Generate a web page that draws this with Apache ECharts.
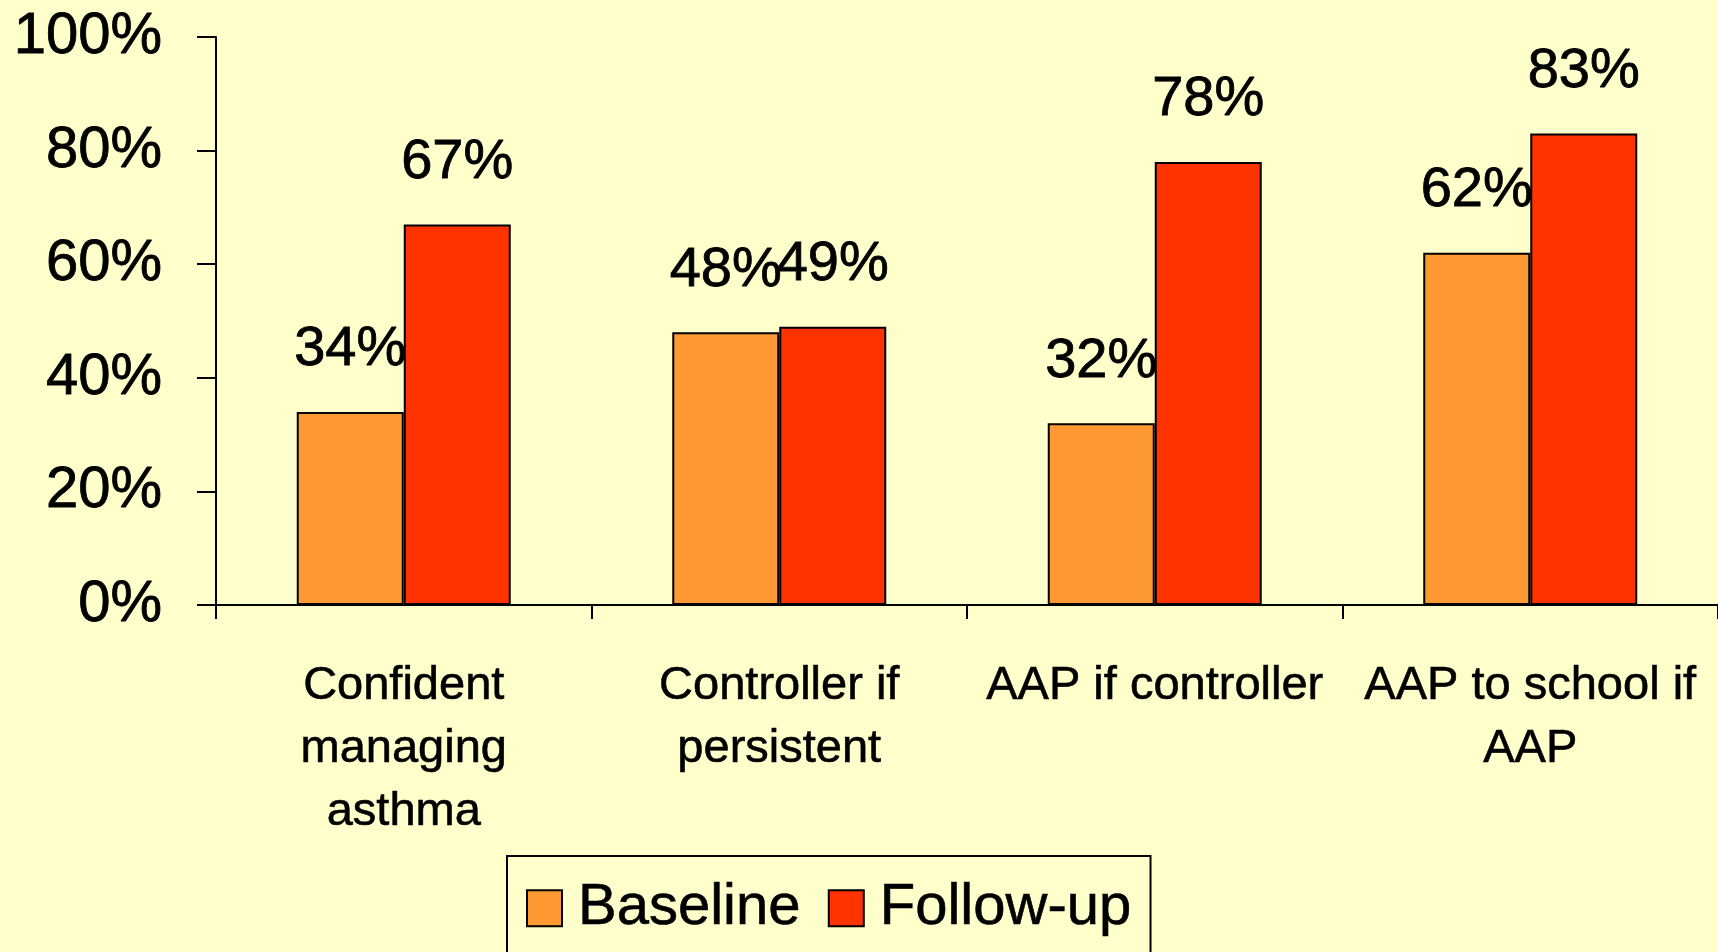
<!DOCTYPE html>
<html>
<head>
<meta charset="utf-8">
<title>Asthma management: baseline vs follow-up</title>
<script src="https://cdn.jsdelivr.net/npm/echarts@6/dist/echarts.min.js"></script>
<style>
  html, body { margin: 0; padding: 0; background: #FFFFCC; }
  #chart { width: 1718px; height: 952px; }
</style>
</head>
<body>
<div id="chart"></div>
<script>
// Survey measures (x axis)
const categories = [
  'Confident\nmanaging\nasthma',
  'Controller if\npersistent',
  'AAP if controller',
  'AAP to school if\nAAP'
];
// Percent of respondents
const baseline = [34, 48, 32, 62];
const followUp = [67, 49, 78, 83];
// Y axis ticks (percent)
const yTicks = [0, 20, 40, 60, 80, 100];

const FONT = '"Liberation Sans", Arial, Helvetica, sans-serif';

const chart = echarts.init(document.getElementById('chart'), null, { renderer: 'canvas' });

const labelStyle = {
  show: true,
  position: 'top',
  distance: 34,
  formatter: '{c}%',
  color: '#000',
  fontFamily: FONT,
  fontSize: 56,
  textBorderColor: '#000',
  textBorderWidth: 0.8
};

chart.setOption({
  backgroundColor: '#FFFFCC',
  animation: false,
  grid: { left: 216, right: 0, top: 37, bottom: 347, containLabel: false },
  legend: {
    left: 507,
    top: 856,
    orient: 'horizontal',
    backgroundColor: '#FFFFCC',
    borderColor: '#000',
    borderWidth: 2,
    borderRadius: 0,
    padding: [23, 19, 40, 19],
    itemWidth: 35,
    itemHeight: 36,
    itemGap: 27,
    itemStyle: { borderColor: '#000', borderWidth: 2 },
    textStyle: {
      color: '#000', fontFamily: FONT, fontSize: 58,
      padding: [0, 0, 0, 11],
      textBorderColor: '#000', textBorderWidth: 0.6
    },
    data: [
      { name: 'Baseline', icon: 'rect' },
      { name: 'Follow-up', icon: 'rect' }
    ]
  },
  xAxis: {
    type: 'category',
    data: categories,
    axisLine: { show: true, lineStyle: { color: '#000', width: 2 } },
    axisTick: { show: true, length: 14, lineStyle: { color: '#000', width: 2 }, alignWithLabel: false },
    axisLabel: {
      color: '#000',
      fontFamily: FONT,
      fontSize: 47,
      lineHeight: 63,
      margin: 50,
      interval: 0,
      textBorderColor: '#000',
      textBorderWidth: 0.6
    },
    splitLine: { show: false }
  },
  yAxis: {
    type: 'value',
    min: yTicks[0],
    max: yTicks[yTicks.length - 1],
    interval: yTicks[1] - yTicks[0],
    axisLine: { show: true, lineStyle: { color: '#000', width: 2 } },
    axisTick: { show: true, length: 19, inside: false, lineStyle: { color: '#000', width: 2 } },
    axisLabel: {
      color: '#000',
      fontFamily: FONT,
      fontSize: 58,
      margin: 54,
      padding: [20, 0, 0, 0],
      formatter: '{value}%',
      textBorderColor: '#000',
      textBorderWidth: 0.8
    },
    splitLine: { show: false }
  },
  series: [
    {
      name: 'Baseline',
      type: 'bar',
      data: baseline,
      barWidth: 107,
      barGap: '0%',
      itemStyle: { color: '#FF9933', borderColor: '#000', borderWidth: 2 },
      label: labelStyle
    },
    {
      name: 'Follow-up',
      type: 'bar',
      data: followUp,
      barWidth: 107,
      barGap: '0%',
      itemStyle: { color: '#FF3300', borderColor: '#000', borderWidth: 2 },
      label: labelStyle
    }
  ]
});
</script>
</body>
</html>
